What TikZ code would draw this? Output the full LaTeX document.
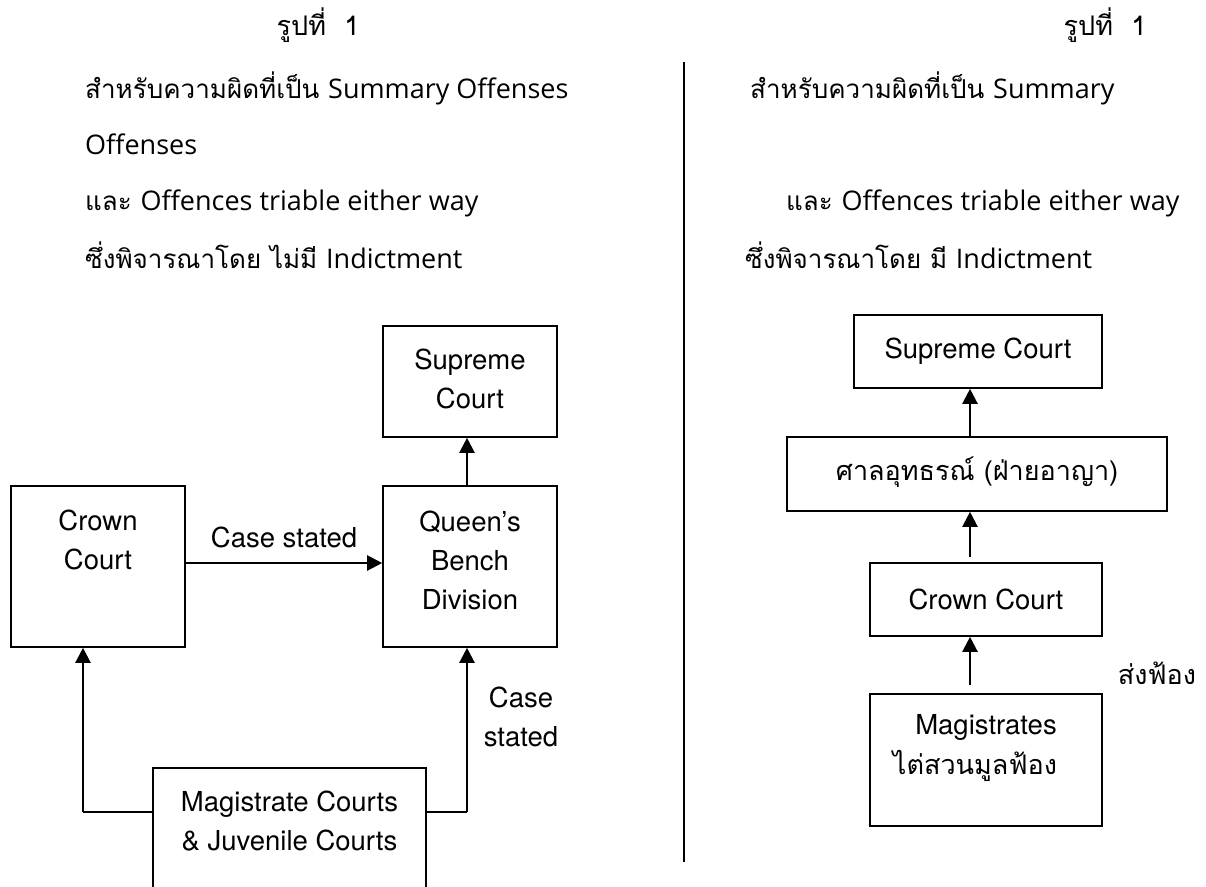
\documentclass[tikz,border=0pt]{standalone}
\usepackage{fontspec}
\setmainfont{TeX Gyre Heros}
\newfontfamily\thai[Script=Thai]{Loma}
\newfontfamily\latinhd{Open Sans}
\newcommand\enpart[1]{{\latinhd\fontsize{27}{30}\selectfont #1}}
\usetikzlibrary{arrows.meta}
\begin{document}
\begin{tikzpicture}[x=1pt,y=-1pt,
  box/.style={draw,line width=1.6pt,inner sep=0pt},
  txt/.style={font=\fontsize{27.5}{39}\selectfont,align=center,inner sep=0pt},
  thtxt/.style={font=\thai\fontsize{27}{39}\selectfont,align=center,inner sep=0pt},
  hd/.style={font=\thai\fontsize{26}{30}\selectfont,anchor=base west,inner sep=0pt},
  ttl/.style={font=\thai\fontsize{27}{30}\selectfont,inner sep=0pt},
  arr/.style={line width=2.2pt,-{Triangle[width=15pt,length=15pt]}},
  link/.style={line width=1.4pt}]
\useasboundingbox (0,0) rectangle (1206,886);
% headers
\node[ttl] (t1) at (318,25) {รูปที่~~1};
\node[ttl] (t2) at (1105,25) {รูปที่~~1};
\node[hd] (l1) at (85,98) {สำหรับความผิดที่เป็น \enpart{Summary Offenses}};
\node[hd] (l2) at (85,154) {\enpart{Offenses}};
\node[hd] (l3) at (85,210) {และ \enpart{Offences triable either way}};
\node[hd] (l4) at (85,268) {ซึ่งพิจารณาโดย ไม่มี \enpart{Indictment}};
\node[hd] (r1) at (750,98) {สำหรับความผิดที่เป็น \enpart{Summary}};
\node[hd] (r3) at (786,210) {และ \enpart{Offences triable either way}};
\node[hd] (r4) at (745,268) {ซึ่งพิจารณาโดย มี \enpart{Indictment}};
\coordinate (dtop) at (684,62);
\coordinate (dbot) at (684,862);
\draw[line width=1.4pt] (dtop) -- (dbot);
% left diagram
\node[box,minimum width=174pt,minimum height=111pt] (lsup) at (470,381.5) {};
\node[txt] (lsupt) at (470,379) {Supreme\\Court};
\node[box,minimum width=174pt,minimum height=161pt] (crown) at (98,566.5) {};
\node[txt] (crownt) at (98,540) {Crown\\Court};
\node[box,minimum width=174pt,minimum height=161pt] (qbd) at (470,566.5) {};
\node[txt] (qbdt) at (470,560) {Queen’s\\Bench\\Division};
\node[box,minimum width=273pt,minimum height=160pt] (mag) at (289.5,848) {};
\node[txt] (magt) at (289.5,821) {Magistrate Courts\\\& Juvenile Courts};
\draw[arr] (crown.east |- 0,563) -- (qbd.west |- 0,563) node[midway,above=14pt,txt] (cs1) {Case stated};
\draw[arr] (qbd.north -| 467,0) -- (lsup.south -| 467,0);
\coordinate (lc) at (83,812);
\coordinate (rc) at (467,812);
\draw[link] (mag.west |- lc) -- (lc);
\draw[arr] (lc) -- (crown.south -| lc);
\draw[link] (mag.east |- rc) -- (rc);
\draw[arr] (rc) -- (qbd.south -| rc);
\node[txt] (cs2) at (521,717) {Case\\stated};
% right diagram
\node[box,minimum width=248pt,minimum height=73pt] (rsup) at (978,351.5) {};
\node[txt] (rsupt) at (978,351.5) {Supreme Court};
\node[box,minimum width=380pt,minimum height=74pt] (app) at (977,474) {};
\node[thtxt] (appt) at (977,472) {ศาลอุทธรณ์ (ฝ่ายอาญา)};
\node[box,minimum width=232pt,minimum height=73pt] (rcrown) at (986,599.5) {};
\node[txt] (rcrownt) at (986,599) {Crown Court};
\node[box,minimum width=232pt,minimum height=132pt] (rmag) at (986,760) {};
\node[txt] (rmagt1) at (986,727) {Magistrates};
\node[thtxt] (rmagt2) at (975,766) {ไต่สวนมูลฟ้อง};
\draw[arr] (app.north -| 970,0) -- (rsup.south -| 970,0);
\draw[arr,shorten <=5pt] (rcrown.north -| 970,0) -- (app.south -| 970,0);
\draw[arr,shorten <=8pt] (rmag.north -| 970,0) -- (rcrown.south -| 970,0);
\node[thtxt] (sf) at (1157,673) {ส่งฟ้อง};
\end{tikzpicture}
\end{document}
